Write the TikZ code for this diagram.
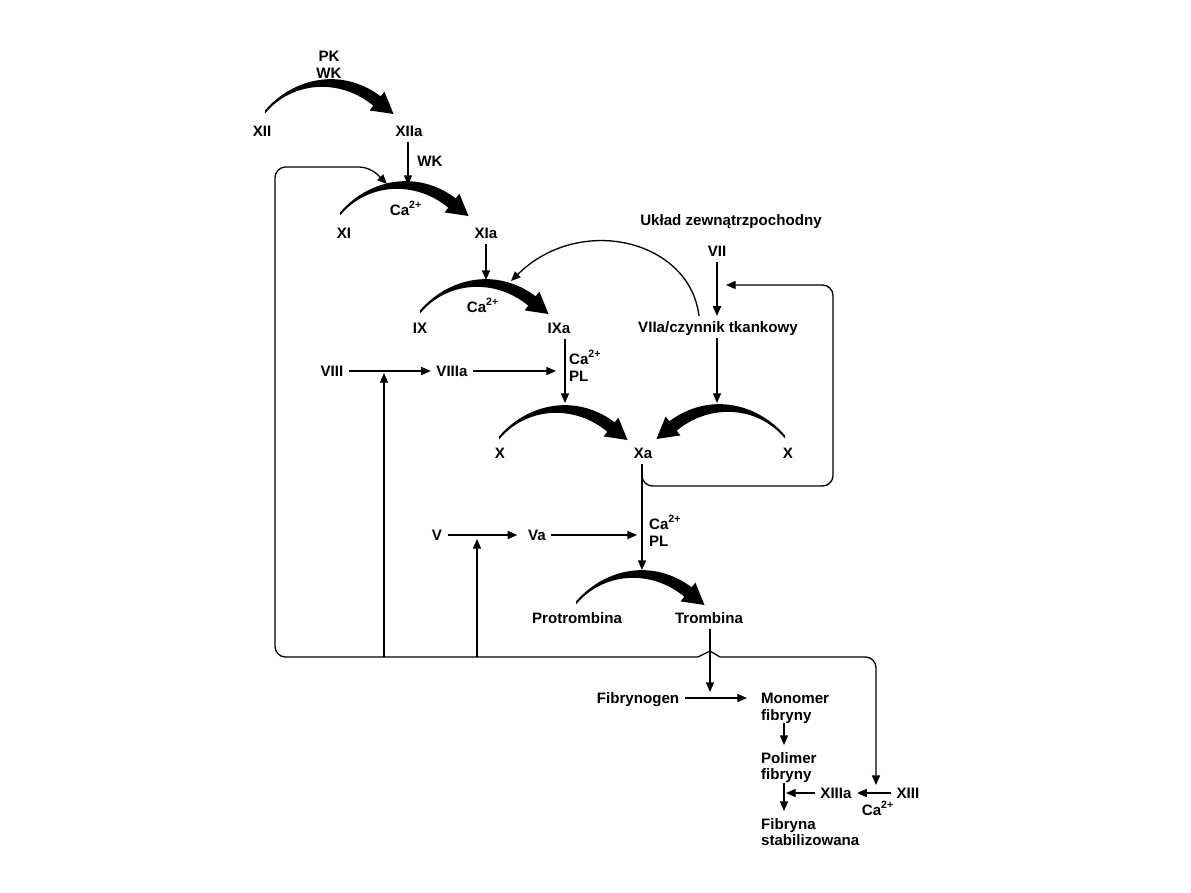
\documentclass[tikz,border=0pt]{standalone}
\usepackage{fontspec}
\setmainfont{Liberation Sans}
\usetikzlibrary{arrows.meta}
\newcommand\labfont{\fontsize{8.6}{9.6}\selectfont\bfseries}
\tikzset{
  fac/.style={inner sep=3pt, text depth=0pt, font=\labfont},
  two/.style={inner sep=1pt, align=left, font=\labfont},
  flow/.style={line width=0.75pt, -{Triangle[length=5.5pt,width=4.6pt]}},
  fatarc/.pic={\fill (0,-1.5) .. controls (27,-33) and (75,-46) .. (115.7,-15.7) -- (119.4,-20.4) -- (128.5,2) -- (104.6,-1.6) -- (108.3,-6.3) .. controls (75,-34) and (27,-31) .. (0,1.5) -- cycle;}
}
\begin{document}
\begin{tikzpicture}[x=0.02cm,y=-0.02cm]
\useasboundingbox (0,0) rectangle (1191,893);
\node[two, align=center] (pkwk) at (329,65) {PK\\WK};
\node[fac] (XII) at (262,131) {XII};
\node[fac] (XIIa) at (409,131) {XIIa};
\node[fac] (wk) at (430,161) {WK};
\node[fac] (XI) at (344,233) {XI};
\node[fac] (XIa) at (486,233) {XIa};
\node[fac] (ca11) at (406,208) {Ca\textsuperscript{2+}};
\node[fac] (IX) at (420,328) {IX};
\node[fac] (IXa) at (559,328) {IXa};
\node[fac] (ca9) at (483,305) {Ca\textsuperscript{2+}};
\node[fac] (uklad) at (731,220) {Układ zewnątrzpochodny};
\node[fac] (VII) at (717,251) {VII};
\node[fac] (VIIa) at (718,327) {VIIa/czynnik tkankowy};
\node[fac] (VIII) at (332,371) {VIII};
\node[fac] (VIIIa) at (452,371) {VIIIa};
\node[two, anchor=west] (capl9) at (567,366) {Ca\textsuperscript{2+}\\PL};
\node[fac] (Xl) at (500,453) {X};
\node[fac] (Xa) at (643,453) {Xa};
\node[fac] (Xr) at (788,453) {X};
\node[two, anchor=west] (caplx) at (647,531) {Ca\textsuperscript{2+}\\PL};
\node[fac] (V) at (437,535) {V};
\node[fac] (Va) at (537,535) {Va};
\node[fac] (prot) at (577,618) {Protrombina};
\node[fac] (trom) at (709,618) {Trombina};
\node[fac] (fbg) at (638,698) {Fibrynogen};
\node[two, anchor=north west] (mono) at (759,691) {Monomer\\fibryny};
\node[two, anchor=north west] (poli) at (759,750) {Polimer\\fibryny};
\node[fac] (XIIIa) at (836,793) {XIIIa};
\node[fac] (XIII) at (908,793) {XIII};
\node[fac] (ca13) at (878,808) {Ca\textsuperscript{2+}};
\node[two, anchor=north west] (fib) at (759,816) {Fibryna\\stabilizowana};

\foreach \p in {(265,112),(340,214),(420,312),(499,438),(576,603)}
  \pic at \p {fatarc};
\pic[xscale=-1] at (785,437) {fatarc};

\coordinate (xiTop) at (408,185);
\coordinate (xiIn) at (387,184);
\coordinate (ixTop) at (486,280);
\coordinate (ixIn) at (511,281);
\coordinate (c7) at (699,316);
\coordinate (xrTop) at (717,403);
\coordinate (xlTop) at (565,403);
\coordinate (in8) at (556,371);
\coordinate (protTop) at (642,570);
\coordinate (in5) at (637,535);
\coordinate (tIn) at (710,692);
\coordinate (mIn) at (747,698);
\coordinate (hopL) at (698,657);
\coordinate (hopR) at (720,657);

\draw[flow] (XIIa.south -| xiTop) -- (xiTop);
\draw[flow] (XIa.south -| ixTop) -- (ixTop);
\draw[flow] (VII) -- (VII |- VIIa.north);
\draw[flow] (VIIa.south -| xrTop) -- (xrTop);
\draw[flow] (c7) .. controls (690,240) and (580,213) .. (ixIn);
\draw[flow] (IXa.south -| xlTop) -- (xlTop);
\draw[flow] (VIII) -- (VIIIa);
\draw[flow] (VIIIa) -- (in8);
\draw[flow] (Xa.south -| protTop) -- (protTop);
\draw[flow, rounded corners=6pt] (642,468) -- (642,486) -- (833,486) -- (833,285) -- (726,285);
\draw[flow, shorten >=3pt] (V) -- (Va);
\draw[flow] (Va) -- (in5);
\draw[flow] (trom.south -| tIn) -- (tIn);
\draw[flow] (fbg) -- (mIn);
\draw[flow] (784,723) -- (784,745);
\draw[flow] (784,783) -- (784,811);
\draw[flow] (XIIIa) -- (786,793);
\draw[flow] (XIII) -- (XIIIa);

\draw[flow, rounded corners=6pt] (hopL) -- (275,657) -- (275,167) -- (370,167) -- (xiIn);
\draw[line width=0.75pt] (hopL) -- (710,651) -- (hopR);
\draw[flow, rounded corners=6pt] (hopR) -- (876,657) -- (876,785);
\draw[flow] (384,657) -- (384,373);
\draw[flow] (477,657) -- (477,539);
\end{tikzpicture}
\end{document}
